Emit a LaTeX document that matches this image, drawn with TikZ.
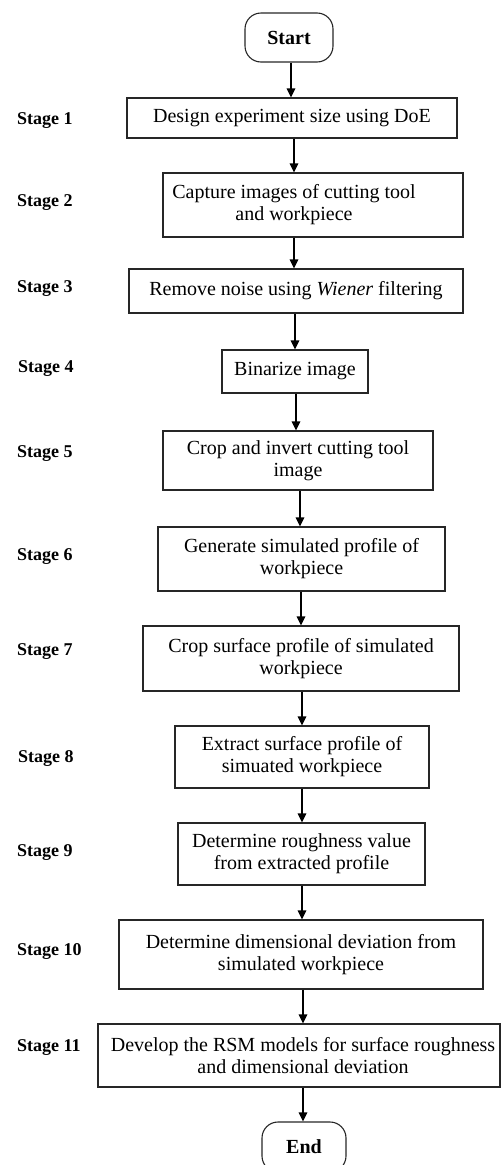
\documentclass[tikz,border=0pt]{standalone}
\usepackage{fontspec}
\setmainfont{Liberation Serif}
\usetikzlibrary{arrows.meta}
\begin{document}
\begin{tikzpicture}[x=1pt,y=-1pt,
  stepbox/.style={draw=black!85, line width=1.1pt, inner sep=0pt, align=center,
    font=\fontsize{20}{22}\selectfont},
  steptext/.style={align=center, inner sep=0pt, font=\fontsize{20}{22}\selectfont},
  termbox/.style={draw=black!85, line width=1.1pt, rounded corners=16pt, inner sep=0pt,
    font=\fontsize{20}{22}\selectfont\bfseries},
  stagelabel/.style={anchor=west, inner sep=0pt, font=\fontsize{18}{22}\selectfont\bfseries},
  flow/.style={line width=1.4pt, -{Triangle[length=9pt,width=8.5pt]}}]
\useasboundingbox (0,0) rectangle (501,1165);

% terminals
\node[termbox, minimum width=88, minimum height=49] (start) at (289,37.5) {Start};
\node[termbox, minimum width=84, minimum height=50] (end) at (304,1147) {End};

% process steps
\node[stepbox, minimum width=330, minimum height=40] (s1) at (292,118) {Design experiment size using DoE};
\node[stepbox, minimum width=300, minimum height=64] (s2) at (313,205) {};
\node[steptext] (s2t) at (294,205) {Capture images of cutting tool\\and workpiece};
\node[stepbox, minimum width=334, minimum height=44] (s3) at (296,291) {Remove noise using \textit{Wiener} filtering};
\node[stepbox, minimum width=146, minimum height=43] (s4) at (295,371.5) {Binarize image};
\node[stepbox, minimum width=270, minimum height=59] (s5) at (298,460.5) {Crop and invert cutting tool\\image};
\node[stepbox, minimum width=287, minimum height=64] (s6) at (301.5,559) {Generate simulated profile of\\workpiece};
\node[stepbox, minimum width=316, minimum height=65] (s7) at (301,658.5) {Crop surface profile of simulated\\workpiece};
\node[stepbox, minimum width=254, minimum height=62] (s8) at (302,757) {Extract surface profile of\\simuated workpiece};
\node[stepbox, minimum width=247, minimum height=62] (s9) at (301.5,854) {Determine roughness value\\from extracted profile};
\node[stepbox, minimum width=364, minimum height=69] (s10) at (301,954.5) {Determine dimensional deviation from\\simulated workpiece};
\node[stepbox, minimum width=402, minimum height=63] (s11) at (299,1055.5) {};
\node[steptext] (s11t) at (303,1055.5) {Develop the RSM models for surface roughness\\and dimensional deviation};

% stage labels
\node[stagelabel] (l1) at (17,121) {Stage 1};
\node[stagelabel] (l2) at (17,203) {Stage 2};
\node[stagelabel] (l3) at (17,289) {Stage 3};
\node[stagelabel] (l4) at (18,369) {Stage 4};
\node[stagelabel] (l5) at (17,454) {Stage 5};
\node[stagelabel] (l6) at (17,557) {Stage 6};
\node[stagelabel] (l7) at (17,652) {Stage 7};
\node[stagelabel] (l8) at (18,758) {Stage 8};
\node[stagelabel] (l9) at (17,853) {Stage 9};
\node[stagelabel] (l10) at (17,951) {Stage 10};
\node[stagelabel] (l11) at (17,1048) {Stage 11};

% connectors
\draw[flow] ([xshift=2pt]start.south) -- ([xshift=2pt]start.south |- s1.north);
\draw[flow] ([xshift=2pt]s1.south) -- ([xshift=2pt]s1.south |- s2.north);
\draw[flow] (s2t |- s2.south) -- (s2t |- s3.north);
\draw[flow] ([xshift=-1pt]s3.south) -- ([xshift=-1pt]s3.south |- s4.north);
\draw[flow] ([xshift=1pt]s4.south) -- ([xshift=1pt]s4.south |- s5.north);
\draw[flow] ([xshift=2pt]s5.south) -- ([xshift=2pt]s5.south |- s6.north);
\draw[flow] ([xshift=-0.5pt]s6.south) -- ([xshift=-0.5pt]s6.south |- s7.north);
\draw[flow] ([xshift=1pt]s7.south) -- ([xshift=1pt]s7.south |- s8.north);
\draw[flow] (s8.south) -- (s8.south |- s9.north);
\draw[flow] ([xshift=0.5pt]s9.south) -- ([xshift=0.5pt]s9.south |- s10.north);
\draw[flow] ([xshift=2pt]s10.south) -- ([xshift=2pt]s10.south |- s11.north);
\draw[flow] (s11t |- s11.south) -- (s11t |- end.north);
\end{tikzpicture}
\end{document}
